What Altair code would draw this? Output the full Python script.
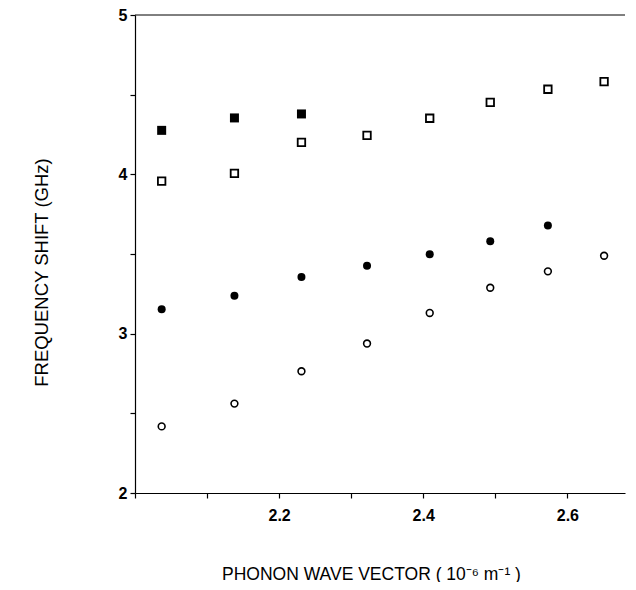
import altair as alt
import pandas as pd

# Phonon wave vector (x) positions of the eight measurements
x_vals = [2.037, 2.138, 2.231, 2.322, 2.409, 2.493, 2.573, 2.651]

# Frequency shifts (GHz)
filled_squares = [4.276, 4.354, 4.379]
open_squares = [3.957, 4.006, 4.200, 4.244, 4.352, 4.452, 4.534, 4.582]
filled_circles = [3.153, 3.238, 3.356, 3.427, 3.499, 3.580, 3.679]
open_circles = [2.418, 2.561, 2.764, 2.938, 3.130, 3.288, 3.391, 3.489]

x_ticks = [2.0, 2.1, 2.2, 2.3, 2.4, 2.5, 2.6]
x_labels = ["2.2", "2.4", "2.6"]
y_ticks = [2, 2.5, 3, 3.5, 4, 4.5, 5]

W, H = 490, 478
FONT = "Liberation Sans"

def frame(vals):
    return pd.DataFrame({"q": x_vals[:len(vals)], "f": vals})

xs = alt.Scale(domain=[2.0, 2.68], nice=False, zero=False)
ys = alt.Scale(domain=[2, 5], nice=False, zero=False)

xaxis = alt.Axis(
    values=x_ticks, format=".1f",
    labelExpr="indexof(" + str(x_labels) + ", datum.label) >= 0 ? datum.label : ''",
    title="PHONON WAVE VECTOR ( 10⁻⁶ m⁻¹ )",
    grid=False, tickSize=5, labelPadding=9, labelFontSize=16, labelFontWeight="bold",
    labelFont=FONT, labelColor="black", tickColor="black", domainColor="black",
    titleFont=FONT, titleFontSize=17.5, titleFontWeight="normal", titleColor="black",
    titleX=236, titleY=86, titleBaseline="alphabetic", titleAlign="center",
    labelFlush=False, labelOverlap=False,
)
yaxis = alt.Axis(
    values=y_ticks,
    labelExpr="datum.value % 1 == 0 ? format(datum.value, 'd') : ''",
    title="FREQUENCY SHIFT (GHz)",
    grid=False, tickSize=5, labelPadding=3, labelFontSize=16, labelFontWeight="bold",
    labelFont=FONT, labelColor="black", tickColor="black", domainColor="black",
    titleFont=FONT, titleFontSize=18.5, titleFontWeight="normal", titleColor="black",
    titleX=-88, titleY=257, titleAngle=270, titleBaseline="alphabetic", titleAlign="center",
    labelFlush=False, labelOverlap=False,
)

def pts(vals, shape, filled, size, sw):
    return alt.Chart(frame(vals)).mark_point(
        shape=shape, filled=filled, size=size,
        color="black", strokeWidth=sw, opacity=1,
        fill="black" if filled else "white",
    ).encode(
        x=alt.X("q:Q", scale=xs, axis=xaxis),
        y=alt.Y("f:Q", scale=ys, axis=yaxis),
    )

top = alt.Chart(pd.DataFrame({"f": [5]})).mark_rule(color="black", strokeWidth=1).encode(
    y=alt.Y("f:Q", scale=ys), x=alt.value(0), x2=alt.value(W)
)

chart = alt.layer(
    top,
    pts(filled_squares, "square", True, 81, 0),
    pts(open_squares, "square", False, 56, 1.8),
    pts(filled_circles, "circle", True, 64, 0),
    pts(open_circles, "circle", False, 46, 1.6),
).properties(
    width=W, height=H, autosize="none",
    padding={"left": 127, "top": 7, "right": 2, "bottom": 89},
).configure_view(stroke=None).configure_axis(domainWidth=1.2, tickWidth=1.2)

chart.save("out.html", embed_options={"renderer": "svg", "actions": False})
